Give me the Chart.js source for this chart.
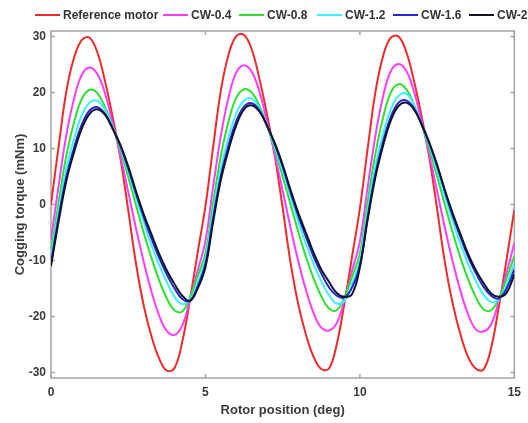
<!DOCTYPE html>
<html><head><meta charset="utf-8">
<script src="https://cdn.jsdelivr.net/npm/chart.js@4.4.0/dist/chart.umd.min.js"></script>
<style>
html,body{margin:0;padding:0;background:#fff;overflow:hidden}
#wrap{position:relative;width:528px;height:423px}
#legend{position:absolute;left:0;top:0;width:528px;height:28px;overflow:hidden;font:bold 12px "Liberation Sans",Arial,sans-serif;color:#333;white-space:nowrap}
.item{position:absolute;top:8px;height:14px;display:flex;align-items:center}
.swatch{display:inline-block;width:25px;height:2px;margin-right:3px}
canvas{position:absolute;left:0;top:0}
</style></head>
<body><div id="wrap"><canvas id="c" width="528" height="423"></canvas><div id="legend"></div></div>
<script>
const xDeg = [0,0.25,0.5,0.75,1,1.25,1.5,1.75,2,2.25,2.5,2.75,3,3.25,3.5,3.75,4,4.25,4.5,4.75,
  5,5.25,5.5,5.75,6,6.25,6.5,6.75,7,7.25,7.5,7.75,8,8.25,8.5,8.75,9,9.25,9.5,9.75,
  10,10.25,10.5,10.75,11,11.25,11.5,11.75,12,12.25,12.5,12.75,13,13.25,13.5,13.75,14,14.25,14.5,14.75,15];

const refMotor = [0,10.5,20.3,26.3,29.4,29.8,27.2,22,15.5,8.2,-1,-10.5,-18,-23.5,-27.5,-29.7,-29.2,-24.5,-17,-8.5,
  -0.3,10.3,20.4,26.8,30.1,30.3,27.7,22.4,15.9,8.5,-0.6,-10.2,-17.7,-23.2,-27.2,-29.4,-29.3,-25.0,-17.6,-9.2,
  -0.7,9.9,20.0,26.5,29.8,30.0,27.3,22.1,15.7,8.3,-0.8,-10.3,-17.6,-23.1,-27.2,-29.3,-29.5,-25.6,-18.2,-9.8,-0.9];

const cw04 = [-6.3,3.5,12.5,19.0,23.2,24.5,23.3,19.8,14.5,8.6,2.3,-4.2,-10.2,-15.5,-19.8,-22.6,-23.3,-21.6,-17.0,-11.8,
  -6.5,3.2,12.3,19.2,23.6,24.9,23.7,20.1,14.7,8.8,2.5,-4.0,-10.0,-15.2,-19.4,-22.0,-22.5,-21.2,-17.0,-11.8,
  -6.6,3.0,12.2,19.3,23.8,25.1,23.9,20.2,14.8,8.8,2.4,-4.1,-10.1,-15.3,-19.6,-22.3,-22.7,-21.4,-17.2,-12.2,-6.9];

const cw08 = [-8.5,0.5,8.8,14.8,18.9,20.5,19.9,17.4,13.9,9.7,4.9,-0.1,-5.0,-9.5,-13.5,-16.8,-18.9,-19.1,-16.6,-12.8,
  -8.7,0.3,8.7,14.9,19.1,20.6,20.0,17.6,14.0,9.8,5.0,0.1,-4.8,-9.3,-13.2,-16.4,-18.6,-18.9,-16.6,-12.9,
  -8.8,0.4,9.0,15.5,20.0,21.5,20.6,17.9,14.2,9.9,5.0,0.0,-4.9,-9.4,-13.3,-16.5,-18.7,-18.9,-16.8,-13.2,-9.2];

const cw12 = [-9.5,-1.0,6.5,11.8,16.0,18.2,18.5,16.9,13.8,10.2,5.9,1.3,-3.1,-7.2,-10.8,-13.9,-16.5,-17.8,-17.0,-14.0,
  -9.7,-1.2,6.4,12.0,16.3,18.6,18.9,17.2,14.0,10.3,6.0,1.5,-2.9,-7.0,-10.6,-13.7,-16.2,-17.7,-17.2,-14.2,
  -9.9,-1.1,6.8,12.6,17.0,19.4,19.8,17.8,14.3,10.5,6.1,1.5,-2.9,-7.0,-10.6,-13.6,-16.1,-17.4,-17.0,-14.4,-10.5];

const cw16 = [-10.4,-2.2,5.0,10.2,14.3,16.8,17.4,16.2,13.6,10.4,6.5,2.0,-2.2,-6.0,-9.5,-12.5,-15.0,-16.9,-17.2,-14.6,
  -10.6,-2.4,5.1,10.6,14.9,17.5,18.1,16.8,14.0,10.7,6.8,2.3,-1.9,-5.7,-9.3,-12.3,-14.8,-16.3,-16.6,-14.8,
  -10.9,-2.3,5.4,11.2,15.6,18.2,18.6,17.2,14.3,10.9,6.9,2.4,-1.9,-5.7,-9.3,-12.2,-14.7,-16.3,-16.8,-15.0,-11.6];

const cw2 = [-11,-2.9,4.3,9.4,13.6,16.2,17.0,16.0,13.5,10.6,6.8,2.4,-1.7,-5.3,-8.8,-11.8,-14.2,-16.3,-17.2,-15.0,
  -11.2,-3.1,4.4,9.8,14.2,17.0,17.7,16.6,14.0,10.9,7.1,2.7,-1.4,-5.0,-8.6,-11.6,-13.8,-15.8,-16.5,-16.0,
  -11.2,-2.8,4.8,10.5,15.0,17.6,18.2,17.0,14.3,11.0,7.1,2.6,-1.5,-5.2,-8.8,-11.7,-14.0,-15.9,-16.5,-15.8,-12.5];

const seriesNames = ['Reference motor','CW-0.4','CW-0.8','CW-1.2','CW-1.6','CW-2'];
const seriesValues = [refMotor, cw04, cw08, cw12, cw16, cw2];
const seriesColors = ['#ee2a2a','#ff3cff','#2ee02e','#3ef0ff','#2626d8','#141428'];
const yTicks = [-30,-20,-10,0,10,20,30];
const xTicks = [0,5,10,15];

const FONT = '"Liberation Sans", Arial, sans-serif';
const TXT = '#3a3a3a';

// HTML legend (clipped at right edge like the reference)
const legendLeft = [35,163,239,317,393,469];
const lg = document.getElementById('legend');
seriesNames.forEach((n,i)=>{
  const it = document.createElement('div');
  it.className='item'; it.style.left = legendLeft[i]+'px';
  const sw = document.createElement('span'); sw.className='swatch'; sw.style.background = seriesColors[i];
  const tx = document.createElement('span'); tx.textContent = n;
  it.appendChild(sw); it.appendChild(tx); lg.appendChild(it);
});

const boxPlugin = {
  id:'box',
  beforeDatasetsDraw(chart){
    const {ctx, chartArea:a, scales:{x,y}} = chart;
    ctx.save();
    ctx.strokeStyle = '#a4a4a4'; ctx.lineWidth = 1.5;
    ctx.strokeRect(a.left, a.top, a.right-a.left, a.bottom-a.top);
    const L = 4;
    ctx.beginPath();
    xTicks.forEach(v=>{const p=x.getPixelForValue(v); ctx.moveTo(p,a.bottom); ctx.lineTo(p,a.bottom-L); ctx.moveTo(p,a.top); ctx.lineTo(p,a.top+L);});
    yTicks.forEach(v=>{const p=y.getPixelForValue(v); ctx.moveTo(a.left,p); ctx.lineTo(a.left+L,p); ctx.moveTo(a.right,p); ctx.lineTo(a.right-L,p);});
    ctx.stroke();
    ctx.restore();
  }
};

new Chart(document.getElementById('c'), {
  type:'line',
  data:{ datasets: seriesValues.map((vals,i)=>({
    label: seriesNames[i],
    data: vals.map((v,j)=>({x:xDeg[j], y:v})),
    borderColor: seriesColors[i],
    backgroundColor: seriesColors[i],
    borderWidth: 2,
    pointRadius: 0,
    tension: 0.4,
    fill: false,
    order: seriesNames.length - i
  }))},
  options:{
    responsive:false, animation:false,
    layout:{ padding:{ top:31, right:9, left:0, bottom:0 } },
    plugins:{ legend:{display:false}, tooltip:{enabled:false} },
    scales:{
      x:{ type:'linear', min:0, max:15,
        afterBuildTicks: s => { s.ticks = xTicks.map(v=>({value:v})); },
        afterFit: s => { s.height = 45; },
        grid:{display:false, drawTicks:false}, border:{display:false},
        ticks:{ padding:7, color:TXT, maxRotation:0, autoSkip:false, font:{family:FONT, size:12, weight:'bold'} },
        title:{ display:true, text:'Rotor position (deg)', color:TXT, font:{family:FONT, size:13, weight:'bold'}, padding:{top:0, bottom:5} }
      },
      y:{ type:'linear', min:-31, max:31,
        afterBuildTicks: s => { s.ticks = yTicks.map(v=>({value:v})); },
        afterFit: s => { s.width = 51; },
        grid:{display:false, drawTicks:false}, border:{display:false},
        ticks:{ padding:5, color:TXT, font:{family:FONT, size:12, weight:'bold'} },
        title:{ display:true, text:'Cogging torque (mNm)', color:TXT, font:{family:FONT, size:13, weight:'bold'}, padding:{top:13, bottom:0} }
      }
    }
  },
  plugins:[boxPlugin]
});
</script>
</body></html>
